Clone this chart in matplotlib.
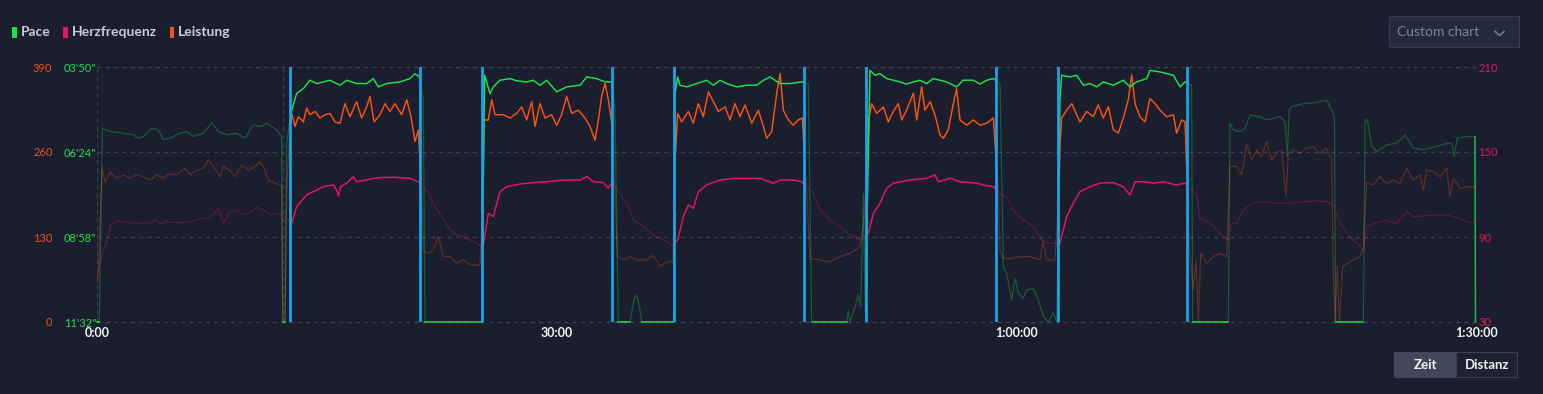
import numpy as np
import matplotlib
matplotlib.use("Agg")
import matplotlib.pyplot as plt
from matplotlib.patches import Rectangle
from matplotlib.lines import Line2D

# ------------------------------------------------------------------ data
series_names = ["Pace", "Herzfrequenz", "Leistung"]
x_ticks = [0, 30, 60, 90]                      # minutes
x_tick_labels = ["0:00", "30:00", "1:00:00", "1:30:00"]
power_ticks = [0, 130, 260, 390]               # W
pace_ticks = [692, 538, 384, 230]              # s/km
hr_ticks = [30, 90, 150, 210]                  # bpm

lap_start = [12.59, 25.10, 37.65, 50.15, 62.67]
lap_end = [21.07, 33.60, 46.11, 58.63, 71.06]
marker_t = [12.13]

pace_pts = [
    (0.00, 692), (0.15, 692), (0.35, 341), (0.85, 347), (1.72, 350), (2.37, 353), (2.70, 359),
    (3.02, 356), (3.57, 341), (4.00, 344), (4.33, 362), (4.76, 359), (5.41, 350), (5.85, 347),
    (6.28, 356), (6.93, 350), (7.48, 331), (7.91, 347), (8.46, 353), (9.11, 350), (9.65, 359),
    (10.19, 335), (10.63, 338), (11.07, 332), (11.72, 344), (12.04, 356), (12.11, 692), (12.26, 692),
    (12.37, 368), (12.52, 338),
    (12.70, 308), (13.02, 278), (13.46, 269), (13.89, 254), (14.33, 260), (14.76, 257), (15.20, 254),
    (15.85, 263), (16.28, 254), (16.93, 260), (17.59, 260), (18.02, 251), (18.35, 266), (18.89, 260),
    (19.76, 257), (20.41, 251), (20.74, 242), (21.02, 248),
    (21.28, 290), (21.39, 692), (25.09, 692),
    (25.28, 245), (25.63, 278), (25.85, 266), (26.28, 254), (26.94, 251), (27.37, 255), (28.02, 257),
    (28.46, 254), (28.89, 263), (29.33, 254), (29.98, 275), (30.63, 266), (31.50, 263), (31.94, 248),
    (32.59, 251), (33.13, 257), (33.57, 257),
    (33.78, 308), (34.00, 692), (34.76, 692), (35.02, 652), (35.20, 643), (35.37, 664), (35.52, 692),
    (37.59, 692), (37.70, 278),
    (37.87, 248), (38.02, 263), (38.46, 266), (39.11, 260), (39.44, 257), (39.76, 254), (40.20, 263),
    (40.63, 254), (41.07, 260), (41.72, 266), (42.37, 263), (43.02, 263), (43.46, 254), (43.89, 248),
    (44.55, 260), (45.20, 260), (45.96, 257),
    (46.39, 260), (46.61, 692), (48.89, 692), (49.00, 673), (49.11, 692), (49.44, 664), (49.65, 643),
    (49.81, 664), (49.98, 459), (50.10, 676),
    (50.41, 236), (50.74, 245), (51.06, 242), (51.50, 251), (51.93, 254), (52.37, 257), (52.80, 261),
    (53.24, 257), (53.67, 254), (54.11, 260), (54.54, 251), (54.98, 254), (55.41, 257), (56.06, 266),
    (56.50, 254), (57.15, 254), (57.59, 261), (58.02, 254), (58.46, 251),
    (58.89, 260), (59.11, 592), (59.33, 604), (59.65, 652), (59.87, 613), (60.09, 640), (60.41, 649),
    (60.63, 634), (61.07, 631), (61.39, 652), (61.72, 682), (62.04, 692), (62.37, 676), (62.59, 692),
    (62.80, 290), (62.91, 245), (63.46, 248), (63.89, 245), (64.33, 263), (64.76, 260), (65.20, 266),
    (65.63, 257), (66.28, 263), (66.93, 254), (67.37, 266), (67.80, 257), (68.46, 251), (68.67, 236),
    (69.33, 239), (70.20, 245), (70.63, 266), (70.96, 257),
    (71.39, 263), (71.46, 692), (73.78, 692), (73.89, 332), (74.11, 344), (74.54, 347), (74.87, 341),
    (75.20, 317), (75.85, 320), (76.28, 326), (77.15, 320), (77.48, 329), (77.63, 392), (77.76, 308),
    (77.91, 302), (78.67, 296), (79.33, 295), (80.20, 290), (80.52, 308), (80.70, 320), (80.78, 692),
    (82.59, 692), (82.70, 326), (82.85, 326), (83.13, 374), (83.46, 383), (84.11, 371), (84.76, 368),
    (85.30, 353), (85.85, 377), (86.50, 380), (87.37, 374), (88.02, 368), (88.35, 368), (88.50, 392),
    (88.72, 359), (89.33, 356), (89.87, 356), (89.90, 692),
]

power_pts = [
    (0.00, 60), (0.10, 77), (0.20, 153), (0.33, 236), (0.52, 214), (0.85, 229), (1.28, 220),
    (1.72, 225), (2.15, 220), (2.59, 225), (3.02, 222), (3.46, 217), (3.89, 225), (4.33, 220),
    (4.76, 227), (5.20, 225), (5.74, 235), (6.07, 225), (6.50, 232), (6.93, 235), (7.26, 248),
    (7.59, 238), (8.02, 222), (8.24, 238), (8.67, 232), (9.00, 222), (9.43, 240), (9.87, 232),
    (10.30, 238), (10.63, 245), (10.96, 232), (11.17, 217), (11.61, 212), (12.04, 208), (12.11, 0),
    (12.26, 0), (12.37, 197), (12.52, 273),
    (12.70, 319), (12.91, 299), (13.13, 314), (13.46, 306), (13.67, 327), (13.89, 317), (14.22, 322),
    (14.54, 312), (14.87, 317), (15.20, 319), (15.52, 306), (15.85, 304), (16.17, 334), (16.50, 314),
    (16.93, 337), (17.26, 312), (17.59, 329), (17.80, 345), (18.07, 306), (18.46, 317), (18.78, 334),
    (19.11, 322), (19.43, 334), (19.87, 317), (20.20, 340), (20.48, 314), (20.74, 276), (20.96, 294),
    (21.17, 197), (21.28, 108), (21.61, 105), (21.93, 110), (22.26, 131), (22.59, 100), (23.02, 100),
    (23.46, 90), (23.89, 95), (24.33, 87), (24.98, 87), (25.10, 150),
    (25.24, 309), (25.52, 309), (25.74, 340), (25.96, 317), (26.50, 317), (26.94, 312), (27.37, 319),
    (27.70, 329), (28.02, 309), (28.35, 337), (28.57, 299), (28.89, 334), (29.22, 312), (29.65, 317),
    (29.98, 301), (30.30, 317), (30.63, 345), (30.96, 319), (31.39, 324), (31.83, 312), (32.15, 299),
    (32.48, 278), (32.70, 309), (32.91, 345), (33.13, 365), (33.35, 340), (33.57, 304),
    (33.78, 197), (33.94, 100), (34.33, 95), (34.76, 100), (35.20, 95), (35.85, 95), (36.28, 102),
    (36.72, 85), (37.15, 92), (37.55, 92), (37.70, 248),
    (37.87, 319), (38.13, 306), (38.57, 322), (38.89, 304), (39.22, 334), (39.54, 314), (39.87, 352),
    (40.20, 337), (40.52, 322), (40.96, 329), (41.28, 309), (41.61, 334), (41.94, 314), (42.26, 332),
    (42.70, 304), (43.13, 324), (43.46, 299), (43.68, 281), (44.00, 291), (44.33, 350), (44.55, 380),
    (44.76, 324), (45.09, 309), (45.41, 301), (45.74, 309), (46.00, 312),
    (46.28, 197), (46.50, 97), (47.15, 95), (47.80, 92), (48.46, 100), (49.11, 105), (49.76, 115),
    (49.98, 146),
    (50.24, 248), (50.35, 312), (50.52, 334), (50.85, 319), (51.28, 329), (51.61, 306), (51.93, 322),
    (52.26, 334), (52.48, 309), (52.80, 324), (53.24, 350), (53.46, 309), (53.78, 360), (54.00, 324),
    (54.33, 337), (54.65, 317), (54.98, 286), (55.20, 281), (55.52, 294), (55.85, 334), (56.06, 357),
    (56.28, 309), (56.72, 301), (57.15, 309), (57.59, 301), (58.02, 304), (58.46, 312),
    (58.78, 197), (58.89, 110), (59.11, 97), (59.54, 97), (60.20, 100), (60.85, 100), (61.50, 95),
    (61.72, 125), (61.93, 95), (62.48, 95), (62.74, 197),
    (62.80, 268), (62.91, 312), (63.24, 324), (63.57, 334), (63.89, 317), (64.11, 306), (64.54, 322),
    (64.98, 314), (65.30, 332), (65.63, 312), (65.96, 329), (66.28, 294), (66.61, 289), (66.93, 312),
    (67.26, 340), (67.48, 378), (67.70, 334), (68.02, 314), (68.35, 306), (68.67, 342), (69.00, 334),
    (69.33, 324), (69.76, 314), (70.20, 317), (70.41, 289), (70.74, 309), (70.96, 306),
    (71.28, 100), (71.50, 49), (71.67, 95), (71.83, 0), (71.98, 105), (72.37, 90), (72.80, 100),
    (73.24, 105), (73.67, 100), (73.89, 238), (74.33, 238), (74.65, 225), (74.98, 273), (75.30, 248),
    (75.63, 263), (75.96, 253), (76.28, 276), (76.61, 248), (76.93, 258), (77.26, 263), (77.54, 192),
    (77.70, 258), (78.02, 263), (78.46, 258), (78.89, 266), (79.33, 268), (79.76, 258), (80.20, 266),
    (80.52, 248), (80.63, 69), (80.74, 0), (80.89, 85), (81.02, 0), (81.24, 85), (81.72, 92),
    (82.37, 100), (82.59, 115), (82.80, 212), (83.24, 210), (83.67, 222), (84.11, 212), (84.54, 217),
    (84.98, 212), (85.41, 235), (85.85, 217), (86.28, 225), (86.50, 202), (86.72, 232), (87.15, 230),
    (87.59, 222), (88.02, 235), (88.24, 192), (88.46, 220), (88.89, 204), (89.33, 207), (89.87, 207),
]

hr_pts = [
    (0.00, 62), (0.33, 77), (0.65, 87), (0.90, 99), (1.30, 101), (1.72, 101), (2.59, 99.6),
    (3.46, 100), (3.89, 102), (4.11, 99), (4.54, 101), (5.20, 100), (6.07, 101), (6.72, 103),
    (7.37, 103), (7.91, 110), (8.24, 99.6), (8.67, 108), (9.11, 109), (9.54, 106), (9.98, 107),
    (10.41, 111), (10.85, 109), (11.39, 105.5), (11.72, 107), (12.04, 106), (12.40, 103),
    (12.70, 99.6), (13.02, 111.4), (13.67, 119.6), (14.33, 123.2), (14.76, 125.5), (15.41, 126.7),
    (15.63, 123.2), (15.74, 118.9), (15.89, 125.5), (16.28, 128), (16.72, 132.6), (16.93, 129),
    (17.37, 129.8), (18.02, 131.4), (18.67, 132.1), (19.54, 132.1), (20.41, 131.4), (20.96, 129),
    (21.50, 123), (21.93, 114), (22.59, 102), (23.24, 92.6), (24.11, 89), (24.76, 85.5), (25.09, 83),
    (25.20, 84.4), (25.52, 106.7), (25.85, 104.4), (26.28, 122), (26.72, 125.5), (27.59, 127.4),
    (28.46, 128.4), (29.33, 129), (30.41, 130.2), (31.50, 130.2), (31.94, 132.6), (32.37, 129),
    (33.02, 128.4), (33.35, 124.4), (33.57, 128.4),
    (34.11, 120.8), (34.54, 113.8), (34.98, 102), (35.63, 97.3), (36.28, 91.4), (36.94, 87.9),
    (37.55, 84.4),
    (37.87, 87.9), (38.24, 104.4), (38.57, 112.6), (38.89, 110.2), (39.22, 122), (39.76, 126.7),
    (40.63, 130.2), (41.50, 131.4), (42.37, 131.4), (43.24, 131.4), (44.11, 128), (44.55, 130.2),
    (45.41, 130.2), (45.96, 129),
    (46.72, 120.8), (47.15, 109), (47.80, 102), (48.46, 97.3), (49.11, 91.4), (49.76, 87.9),
    (50.30, 92.6), (50.63, 106.7), (51.06, 113.8), (51.50, 124.4), (51.93, 128), (53.02, 130.2),
    (54.11, 131.4), (54.65, 133.8), (54.87, 129), (55.63, 131.4), (56.28, 129), (57.37, 128),
    (57.80, 126.7), (58.46, 125.5),
    (58.89, 120.8), (59.33, 118.5), (59.76, 109), (60.41, 102), (61.07, 97.3), (61.61, 87.9),
    (62.15, 85.5), (62.59, 85.5),
    (62.80, 85.5), (63.24, 104.4), (63.67, 113.8), (64.11, 122), (64.76, 125.5), (65.41, 128),
    (66.28, 128.4), (66.93, 125.5), (67.37, 119.6), (67.70, 129), (68.24, 129), (68.89, 128),
    (69.54, 129), (70.41, 126.7), (70.96, 128),
    (71.50, 122), (71.72, 120.8), (71.93, 102), (72.15, 103.2), (72.59, 99.6), (73.02, 94.9),
    (73.46, 90.2), (73.78, 87.9), (74.00, 99.6), (74.33, 99.6), (74.76, 109), (75.20, 112.6),
    (75.85, 114.9), (77.15, 113.8), (78.24, 114.2), (79.33, 115.6), (80.20, 114.9), (80.63, 112.6),
    (80.96, 102), (81.50, 92.6), (82.15, 85.5), (82.59, 80.8), (82.80, 97.3), (83.24, 99.6),
    (84.11, 102), (84.76, 99.6), (85.41, 107.9), (85.85, 104.4), (87.15, 105.5), (88.02, 105.5),
    (88.89, 103.2), (89.33, 100.8), (89.87, 99.6),
]

# ------------------------------------------------------------------ style
W, H, DPI = 1543, 394, 100
BG = "#1a1e2f"
GREEN = "#1fe24a"
PINK = "#ea145c"
ORANGE = "#f7540f"
BLUE = "#1ba3e6"
GRID = "#3a3f52"
TXT = "#c9cdd6"
DIM = 0.3

plt.rcParams["font.family"] = ["Lato", "DejaVu Sans"]

pace_t, pace_v = np.array(pace_pts, dtype=float).T
power_t, power_v = np.array(power_pts, dtype=float).T
hr_t, hr_v = np.array(hr_pts, dtype=float).T

fig = plt.figure(figsize=(W / DPI, H / DPI), dpi=DPI, facecolor=BG)


def fx(px):
    return px / W


def fy(py):
    return 1 - py / H


ax = fig.add_axes([fx(97), fy(322), 1380 / W, 255 / H])
ax_p = ax.twinx()
ax_h = ax.twinx()
for a in (ax, ax_p, ax_h):
    a.set_facecolor("none")
    for s in a.spines.values():
        s.set_visible(False)
ax.set_facecolor(BG)

ax.set_xlim(0, 90)
ax.set_ylim(0, 390)
ax_p.set_ylim(692, 230)
ax_h.set_ylim(30, 210)

# grid
for yv in power_ticks:
    ax.axhline(yv, color=GRID, lw=1.0, ls=(0, (3, 3)), zorder=0, clip_on=False)
for xv in [x_ticks[0], x_ticks[-1]] + marker_t:
    ax.axvline(xv, color=GRID, lw=1.0, ls=(0, (3, 3)), zorder=0)

# ticks / labels
ax.set_xticks(x_ticks)
ax.set_xticklabels(x_tick_labels, color="#f2f3f5", fontsize=9, fontweight="bold")
ax.tick_params(axis="x", length=0, pad=3.5)

ax.set_yticks(power_ticks)
ax.set_yticklabels([str(v) for v in power_ticks], color="#e9541c", fontsize=8)
ax.tick_params(axis="y", length=0, pad=32)

ax_p.yaxis.tick_left()
ax_p.set_yticks(pace_ticks)
ax_p.set_yticklabels([f"{int(v // 60):02d}'{int(v % 60):02d}\"" for v in pace_ticks],
                     color="#22e04a", fontsize=8)
ax_p.tick_params(axis="y", length=0, pad=0.5)
ax_p.tick_params(axis="x", which="both", length=0, labelbottom=False, labeltop=False)

ax_h.yaxis.tick_right()
ax_h.set_yticks(hr_ticks)
ax_h.set_yticklabels([str(v) for v in hr_ticks], color="#e0195c", fontsize=8)
ax_h.tick_params(axis="y", length=0, pad=1)
ax_h.tick_params(axis="x", which="both", length=0, labelbottom=False, labeltop=False)


def draw(a, t, v, color, lw):
    a.plot(t, v, color=color, lw=lw * 0.9, alpha=DIM, zorder=2)
    for s, e in zip(lap_start, lap_end):
        ln, = a.plot(t, v, color=color, lw=lw, zorder=3)
        ln.set_clip_path(Rectangle((s, -0.02), e - s, 1.04, transform=a.get_xaxis_transform()))


draw(ax, power_t, power_v, ORANGE, 1.0)
draw(ax_p, pace_t, pace_v, GREEN, 1.0)
draw(ax_h, hr_t, hr_v, PINK, 1.0)

# stopped (clipped) pace shown at the floor, and final drop
ax_p.plot(pace_t, np.where(pace_v >= 692, pace_v, np.nan), color=GREEN, lw=1.2,
          alpha=0.85, clip_on=False, zorder=3)
ax_p.plot(pace_t[-2:], pace_v[-2:], color=GREEN, lw=1.0, alpha=0.75, clip_on=False, zorder=3)

for s, e in zip(lap_start, lap_end):
    ax_h.axvline(s, color=BLUE, lw=2.0, zorder=10)
    ax_h.axvline(e, color=BLUE, lw=2.0, zorder=10)

# ------------------------------------------------------------------ legend
leg_colors = [GREEN, PINK, ORANGE]
leg_x = [12.3, 63.3, 170.0]
for name, c, x0 in zip(series_names, leg_colors, leg_x):
    fig.add_artist(Rectangle((fx(x0), fy(37.7)), 4.4 / W, 11 / H, transform=fig.transFigure,
                             facecolor=c, edgecolor="none"))
    fig.text(fx(x0 + 8.2), fy(32), name, color=TXT, fontsize=10, fontweight="bold",
             ha="left", va="center")

# ------------------------------------------------------------------ custom chart button
fig.add_artist(Rectangle((fx(1388.5), fy(47.3)), 130 / W, 31.3 / H, transform=fig.transFigure,
                         facecolor="#222a3d", edgecolor="#363d52", lw=0.8))
fig.text(fx(1397), fy(32), "Custom chart", color="#7b8294", fontsize=10,
         ha="left", va="center")
fig.add_artist(Line2D([fx(1495), fx(1499.5), fx(1504)], [fy(31.5), fy(35.5), fy(31.5)],
                      transform=fig.transFigure, color="#7b8294", lw=1.1))

# ------------------------------------------------------------------ Zeit / Distanz
fig.add_artist(Rectangle((fx(1394), fy(377.3)), 62 / W, 25 / H, transform=fig.transFigure,
                         facecolor="#42475a", edgecolor="#42475a", lw=0.8))
fig.add_artist(Rectangle((fx(1456), fy(377.3)), 61.3 / W, 25 / H, transform=fig.transFigure,
                         facecolor="#1d2233", edgecolor="#393e51", lw=0.8))
fig.text(fx(1425), fy(365), "Zeit", color="#f2f3f5", fontsize=9.5, fontweight="bold",
         ha="center", va="center")
fig.text(fx(1486.7), fy(365), "Distanz", color="#f2f3f5", fontsize=9.5, fontweight="bold",
         ha="center", va="center")

fig.savefig("out.png", dpi=DPI, facecolor=BG)
